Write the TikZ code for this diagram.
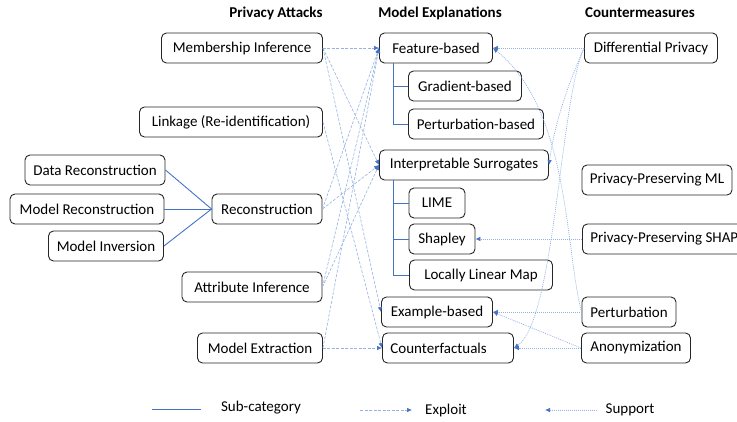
\documentclass[tikz,border=0pt]{standalone}
\usepackage{fontspec}
\setmainfont{Carlito}
\usepackage{xcolor}
\definecolor{Blue}{RGB}{68,114,196}
\definecolor{LightBlue}{RGB}{150,178,226}
\definecolor{Frame}{RGB}{38,38,38}
\usetikzlibrary{arrows.meta}

\tikzset{
	box/.style={draw=Frame, line width=0.9pt, rounded corners=5pt, fill=white, minimum height=30pt, inner sep=0pt, font=\fontsize{15}{17}\selectfont},
	head/.style={font=\fontsize{15}{17}\selectfont\bfseries},
	lab/.style={font=\fontsize{15}{17}\selectfont},
	sub/.style={draw=Blue, line width=0.9pt},
	exploit/.style={draw=LightBlue, line width=0.6pt, dash pattern=on 3pt off 1.5pt, -{Latex[length=5pt,width=4.5pt,color=Blue]}},
	support/.style={draw=LightBlue, line width=0.7pt, dash pattern=on 1pt off 1pt, -{Latex[length=5pt,width=4.5pt,color=Blue]}}
}

\begin{document}
\begin{tikzpicture}[x=1pt, y=-1pt]
		
		\clip (0,0) rectangle (737,421);
		
		% Headers
		\node[head] (hattack) at (276,13) {Privacy Attacks};
		\node[head] (hexpl) at (440,13) {Model Explanations};
		\node[head] (hcounter) at (640,13) {Countermeasures};
		
		% Attacks
		\node[box, minimum width=161pt] (mi) at (242,48) {Membership Inference};
		\node[box, minimum width=183pt] (link) at (231,122) {Linkage (Re-identification)};
		\node[box, minimum width=140pt] (datarec) at (95,170) {Data Reconstruction};
		\node[box, minimum width=154pt] (modelrec) at (87,209) {Model Reconstruction};
		\node[box, minimum width=115pt] (modelinv) at (106,246) {Model Inversion};
		\node[box, minimum width=110pt] (rec) at (267,209) {Reconstruction};
		\node[box, minimum width=140pt] (attr) at (252,287) {Attribute Inference};
		\node[box, minimum width=125pt] (extr) at (260,348) {Model Extraction};
		
		% Explanations
		\node[box, minimum width=113pt] (fb) at (436,48) {Feature-based};
		\node[box, minimum width=113pt] (grad) at (465,86) {Gradient-based};
		\node[box, minimum width=135pt] (pert) at (476,124) {Perturbation-based};
		\node[box, minimum width=169pt] (surr) at (464,165) {Interpretable Surrogates};
		\node[box, minimum width=56pt] (lime) at (437,203) {LIME};
		\node[box, minimum width=66pt] (shap) at (442,239) {Shapley};
		\node[box, minimum width=143pt] (llm) at (481,275) {Locally Linear Map};
		\node[box, minimum width=111pt] (exmp) at (437,312) {Example-based};
		\node[box, anchor=west, inner xsep=8pt, text width=115pt, align=left] (cf) at (382,348) {Counterfactuals};
		
		% Countermeasures
		\node[box, minimum width=133pt] (dp) at (651,48) {Differential Privacy};
		\node[box, minimum width=150pt] (ppml) at (657,180) {Privacy-Preserving ML};
		\node[box, inner xsep=8pt, anchor=west] (ppshap) at (582,239) {Privacy-Preserving SHAP};
		\node[box, minimum width=94pt] (pertc) at (629,312) {Perturbation};
		\node[box, minimum width=109pt] (anon) at (636,348) {Anonymization};
		
		% Sub-categories
		\draw[sub] (datarec.east) -- (rec.west);
		\draw[sub] (modelrec.east) -- (rec.west);
		\draw[sub] (modelinv.east) -- (rec.west);
		\draw[sub] ([xshift=14pt]fb.south west) |- (grad.west);
		\draw[sub] ([xshift=14pt]fb.south west) |- (pert.west);
		\draw[sub] ([xshift=14pt]surr.south west) |- (lime.west);
		\draw[sub] ([xshift=14pt]surr.south west) |- (shap.west);
		\draw[sub] ([xshift=14pt]surr.south west) |- (llm.west);
		
		% Exploits
		\draw[exploit] (mi.east) -- (fb.west);
		\draw[exploit] (mi.east) -- (surr.west);
		\draw[exploit] (mi.east) -- (exmp.west);
		\draw[exploit] (link.east) -- (cf.west);
		\draw[exploit] (rec.east) -- (fb.west);
		\draw[exploit] (rec.east) -- (surr.west);
		\draw[exploit] (attr.east) -- (fb.west);
		\draw[exploit] (attr.east) -- (surr.west);
		\draw[exploit] (extr.east) -- (fb.west);
		\draw[exploit] (extr.east) -- (cf.west);
		
		% Support
		\draw[support] (dp.west) -- (fb.east);
		\draw[support] (dp.west) .. controls (570,80) and (555,120) .. (surr.east);
		\draw[support] (dp.west) .. controls (560,100) and (555,320) .. (cf.east);
		\draw[support] (ppshap.west) -- (shap.east);
		\draw[support] (pertc.west) -- (exmp.east);
		\draw[support] (pertc.west) .. controls (565,250) and (570,110) .. (fb.east);
		\draw[support] (anon.west) -- (cf.east);
		\draw[support] (anon.west) -- (exmp.east);
		
		% Legend
		\coordinate (subA) at (152,409);
		\coordinate (subB) at (201,409);
		\coordinate (expA) at (360,410);
		\coordinate (expB) at (412,410);
		\coordinate (supA) at (597,410);
		\coordinate (supB) at (545,410);
		\draw[sub] (subA) -- (subB);
		\draw[exploit] (expA) -- (expB);
		\draw[support] (supA) -- (supB);
		\node[lab] (lsub) at (261,408) {Sub-category};
		\node[lab] (lexp) at (446,410) {Exploit};
		\node[lab] (lsup) at (630,410) {Support};
		
\end{tikzpicture}
\end{document}
